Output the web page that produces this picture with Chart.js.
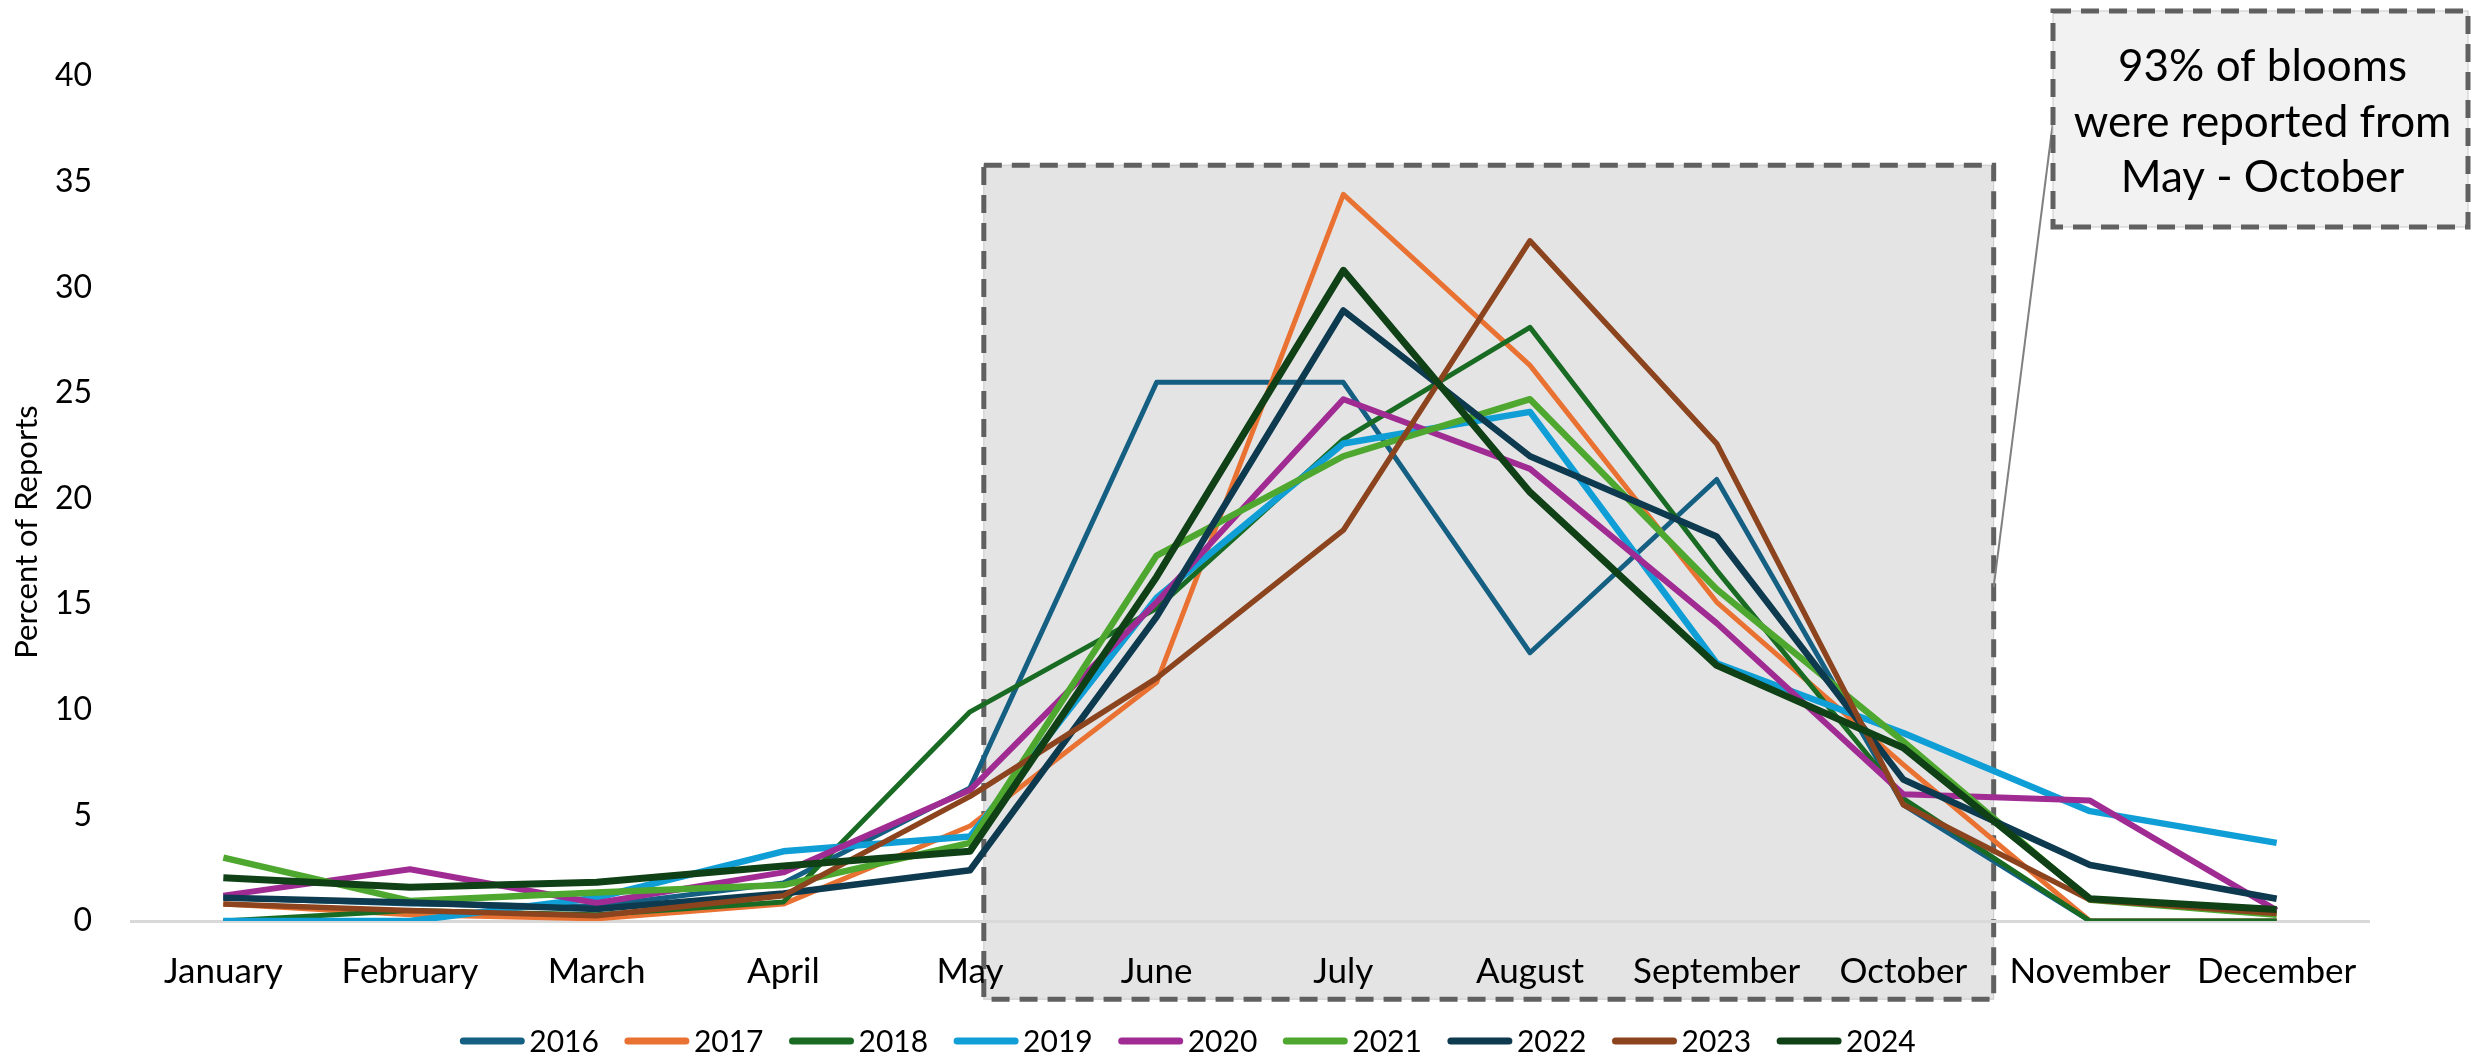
<!DOCTYPE html>
<html>
<head>
<meta charset="utf-8">
<script src="https://cdn.jsdelivr.net/npm/chart.js@4/dist/chart.umd.min.js"></script>
<style>
  html, body { margin: 0; padding: 0; background: #fff; }
  #wrap { width: 2489px; height: 1054px; }
</style>
</head>
<body>
<div id="wrap"><canvas id="lineChart" width="2489" height="1054"></canvas></div>
<script>
// data
const months = ['January', 'February', 'March', 'April', 'May', 'June', 'July',
    'August', 'September', 'October', 'November', 'December'];
const years = ['2016', '2017', '2018', '2019', '2020', '2021', '2022', '2023', '2024'];

const s2016 = [1.1, 0.8, 0.7, 1.8, 6.3, 25.5, 25.5, 12.7, 20.9, 5.5, 0, 0];
const s2017 = [0.8, 0.3, 0.1, 0.8, 4.5, 11.3, 34.4, 26.3, 15.1, 7.4, 0, 0];
const s2018 = [0, 0.5, 0.3, 0.9, 9.9, 14.8, 22.8, 28.1, 16.6, 5.8, 0, 0];
const s2019 = [0, 0, 1.1, 3.3, 4.0, 15.3, 22.6, 24.1, 12.2, 8.9, 5.2, 3.7];
const s2020 = [1.2, 2.45, 0.85, 2.3, 6.2, 15.1, 24.7, 21.4, 14.1, 6.0, 5.7, 0.5];
const s2021 = [3.0, 0.95, 1.35, 1.7, 3.7, 17.3, 22.0, 24.7, 15.7, 8.5, 1.0, 0.3];
const s2022 = [1.1, 0.88, 0.57, 1.3, 2.4, 14.4, 28.9, 22.0, 18.2, 6.7, 2.65, 1.05];
const s2023 = [0.8, 0.5, 0.25, 1.2, 5.9, 11.5, 18.5, 32.2, 22.6, 5.5, 1.0, 0.35];
const s2024 = [2.05, 1.6, 1.83, 2.6, 3.3, 16.3, 30.8, 20.3, 12.1, 8.2, 1.05, 0.55];

const seriesValues = [s2016, s2017, s2018, s2019, s2020, s2021, s2022, s2023, s2024];
const colors = ['#156082', '#E97132', '#196B24', '#0F9ED5', '#A02B93',
    '#4EA72E', '#0D3A4E', '#8C441E', '#0F4016'];
const widths = [5, 5, 5, 6.5, 6, 6.5, 6.5, 5.5, 7];

const yTicksMax = 40;
const yStep = 5;

// shaded May-October box, in category / value units
const shadeFrom = 4.074, shadeTo = 9.484, shadeTop = 35.78, shadeBottom = -3.7;
const calloutLines = ['93% of blooms', 'were reported from', 'May - October'];

const FONT = 'Lato';
const DASH = [18, 10];

// helper fuctions
function dashedRect(ctx, x, y, w, h, fill) {
    ctx.save();
    ctx.fillStyle = fill;
    ctx.fillRect(x, y, w, h);
    ctx.strokeStyle = '#c8c8c8';
    ctx.lineWidth = 1;
    ctx.strokeRect(x, y, w, h);
    ctx.setLineDash(DASH);
    ctx.strokeStyle = '#606060';
    ctx.lineWidth = 5;
    ctx.strokeRect(x, y, w, h);
    ctx.restore();
}

const shadePlugin = {
    id: 'shade',
    beforeDraw(chart) {
        const xs = chart.scales.x, ys = chart.scales.y;
        const x1 = xs.getPixelForValue(shadeFrom), x2 = xs.getPixelForValue(shadeTo);
        const y1 = ys.getPixelForValue(shadeTop), y2 = ys.getPixelForValue(shadeBottom);
        dashedRect(chart.ctx, x1, y1, x2 - x1, y2 - y1, '#e4e4e4');
    },
    afterDraw(chart) {
        const ctx = chart.ctx;
        const xs = chart.scales.x, ys = chart.scales.y;

        // leader line + callout
        const bx = 2053, by = 11, bw = 415, bh = 216;
        ctx.save();
        ctx.strokeStyle = '#808080';
        ctx.lineWidth = 2;
        ctx.beginPath();
        ctx.moveTo(bx, 122);
        ctx.lineTo(xs.getPixelForValue(shadeTo), ys.getPixelForValue(15.8));
        ctx.stroke();
        ctx.restore();
        dashedRect(ctx, bx, by, bw, bh, '#f2f2f2');
        ctx.save();
        ctx.fillStyle = '#000';
        ctx.font = '44px ' + FONT;
        ctx.textAlign = 'center';
        ctx.textBaseline = 'middle';
        calloutLines.forEach((t, i) => ctx.fillText(t, bx + bw / 2 + 2, 67 + i * 55.5));
        ctx.restore();

        // y title
        ctx.save();
        ctx.fillStyle = '#000';
        ctx.textAlign = 'center';
        ctx.textBaseline = 'middle';
        ctx.translate(27, 532);
        ctx.rotate(-Math.PI / 2);
        ctx.font = '31px ' + FONT;
        ctx.fillText('Percent of Reports', 0, 0);
        ctx.restore();

        // legend
        ctx.save();
        ctx.font = '30px ' + FONT;
        ctx.textBaseline = 'middle';
        ctx.textAlign = 'left';
        const sample = 64, gap = 5, spacing = 26;
        const items = chart.data.datasets.map(d => ({ label: d.label, color: d.borderColor, w: ctx.measureText(d.label).width }));
        let total = items.reduce((a, it) => a + sample + gap + it.w, 0) + spacing * (items.length - 1);
        let x = 1188 - total / 2;
        const ly = 1041;
        items.forEach(it => {
            ctx.strokeStyle = it.color;
            ctx.lineWidth = 7;
            ctx.lineCap = 'round';
            ctx.beginPath();
            ctx.moveTo(x + 3, ly);
            ctx.lineTo(x + sample - 3, ly);
            ctx.stroke();
            ctx.fillStyle = '#000';
            ctx.fillText(it.label, x + sample + gap, ly + 1);
            x += sample + gap + it.w + spacing;
        });
        ctx.restore();
    }
};

var ctxL = document.getElementById('lineChart').getContext('2d');
var charts = new Chart(ctxL, {
    type: 'line',
    data: {
        labels: months,
        datasets: seriesValues.map((vals, i) => ({
            label: years[i],
            data: vals,
            borderColor: colors[i],
            backgroundColor: colors[i],
            borderWidth: widths[i],
            pointRadius: 0,
            tension: 0,
            borderJoinStyle: 'round',
            order: seriesValues.length - i
        }))
    },
    options: {
        responsive: false,
        animation: false,
        layout: { padding: { top: 76, right: 119, bottom: 0, left: 0 } },
        plugins: {
            legend: { display: false },
            tooltip: { enabled: false }
        },
        scales: {
            x: {
                offset: true,
                grid: { display: false },
                border: { display: false },
                ticks: { color: '#000', font: { family: FONT, size: 35 }, padding: 22, maxRotation: 0, autoSkip: false },
                afterFit(s) { s.height = 133; }
            },
            y: {
                min: 0,
                max: yTicksMax,
                ticks: { stepSize: yStep, color: '#000', font: { family: FONT, size: 32 }, padding: 38 },
                grid: {
                    drawTicks: false,
                    lineWidth: 3,
                    color: c => (c.tick && c.tick.value === 0) ? '#d9d9d9' : 'transparent'
                },
                border: { display: false },
                afterFit(s) { s.width = 130; }
            }
        }
    },
    plugins: [shadePlugin]
});
</script>
</body>
</html>
